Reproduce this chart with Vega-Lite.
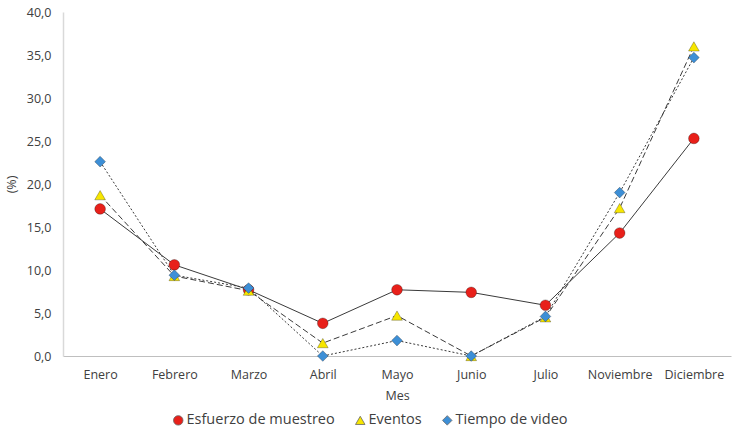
{
  "$schema": "https://vega.github.io/schema/vega-lite/v6.json",
  "width": 668,
  "height": 344,
  "autosize": {"type": "none"},
  "padding": {"left": 63, "top": 12, "right": 1, "bottom": 74},
  "background": "white",
  "config": {
    "view": {"stroke": null},
    "font": "Open Sans",
    "axis": {"labelFont": "Open Sans", "titleFont": "Open Sans", "labelColor": "#404040", "titleColor": "#404040", "labelFontSize": 12.5, "titleFontSize": 12.5, "titleFontWeight": "normal", "grid": false, "ticks": false},
    "legend": {"labelFont": "Open Sans", "labelFontSize": 14.5, "labelColor": "#404040"}
  },
  "data": {
    "values": [
      {"mes": "Enero", "serie": "Esfuerzo de muestreo", "valor": 17.1},
      {"mes": "Febrero", "serie": "Esfuerzo de muestreo", "valor": 10.6},
      {"mes": "Marzo", "serie": "Esfuerzo de muestreo", "valor": 7.7},
      {"mes": "Abril", "serie": "Esfuerzo de muestreo", "valor": 3.8},
      {"mes": "Mayo", "serie": "Esfuerzo de muestreo", "valor": 7.7},
      {"mes": "Junio", "serie": "Esfuerzo de muestreo", "valor": 7.4},
      {"mes": "Julio", "serie": "Esfuerzo de muestreo", "valor": 5.9},
      {"mes": "Noviembre", "serie": "Esfuerzo de muestreo", "valor": 14.3},
      {"mes": "Diciembre", "serie": "Esfuerzo de muestreo", "valor": 25.3},
      {"mes": "Enero", "serie": "Eventos", "valor": 18.7},
      {"mes": "Febrero", "serie": "Eventos", "valor": 9.3},
      {"mes": "Marzo", "serie": "Eventos", "valor": 7.6},
      {"mes": "Abril", "serie": "Eventos", "valor": 1.5},
      {"mes": "Mayo", "serie": "Eventos", "valor": 4.7},
      {"mes": "Junio", "serie": "Eventos", "valor": 0.0},
      {"mes": "Julio", "serie": "Eventos", "valor": 4.5},
      {"mes": "Noviembre", "serie": "Eventos", "valor": 17.2},
      {"mes": "Diciembre", "serie": "Eventos", "valor": 36.0},
      {"mes": "Enero", "serie": "Tiempo de video", "valor": 22.6},
      {"mes": "Febrero", "serie": "Tiempo de video", "valor": 9.4},
      {"mes": "Marzo", "serie": "Tiempo de video", "valor": 7.9},
      {"mes": "Abril", "serie": "Tiempo de video", "valor": 0.0},
      {"mes": "Mayo", "serie": "Tiempo de video", "valor": 1.8},
      {"mes": "Junio", "serie": "Tiempo de video", "valor": 0.0},
      {"mes": "Julio", "serie": "Tiempo de video", "valor": 4.6},
      {"mes": "Noviembre", "serie": "Tiempo de video", "valor": 19.0},
      {"mes": "Diciembre", "serie": "Tiempo de video", "valor": 34.7}
    ]
  },
  "encoding": {
    "x": {
      "field": "mes", "type": "ordinal",
      "sort": ["Enero", "Febrero", "Marzo", "Abril", "Mayo", "Junio", "Julio", "Noviembre", "Diciembre"],
      "scale": {"type": "point", "padding": 0.5},
      "axis": {"title": "Mes", "labelAngle": 0, "labelPadding": 12, "titlePadding": 9, "domainColor": "#BFBFBF", "domainWidth": 1.2}
    },
    "y": {
      "field": "valor", "type": "quantitative",
      "scale": {"domain": [0, 40], "nice": false},
      "axis": {"title": "(%)", "values": [0, 5, 10, 15, 20, 25, 30, 35, 40], "labelExpr": "replace(format(datum.value, '.1f'), '.', ',')", "labelPadding": 12, "titlePadding": 8, "domainColor": "#D9D9D9", "domainWidth": 1.5}
    }
  },
  "layer": [
    {
      "transform": [{"filter": "datum.serie === 'Esfuerzo de muestreo'"}],
      "mark": {"type": "line", "color": "#3a3a3a", "strokeWidth": 1},
      "encoding": {}
    },
    {
      "transform": [{"filter": "datum.serie === 'Eventos'"}],
      "mark": {"type": "line", "color": "#3a3a3a", "strokeWidth": 1, "strokeDash": [6, 3]},
      "encoding": {}
    },
    {
      "transform": [{"filter": "datum.serie === 'Tiempo de video'"}],
      "mark": {"type": "line", "color": "#3a3a3a", "strokeWidth": 1, "strokeDash": [2, 2]},
      "encoding": {}
    },
    {
      "mark": {"type": "point", "filled": true, "opacity": 1, "stroke": "#000000", "strokeOpacity": 0.35, "strokeWidth": 0.8, "size": 115},
      "encoding": {
        "color": {
          "field": "serie", "type": "nominal",
          "scale": {"domain": ["Esfuerzo de muestreo", "Eventos", "Tiempo de video"], "range": ["#E8201A", "#F7E600", "#3D8FD6"]},
          "legend": {"title": null, "orient": "none", "legendX": 108, "legendY": 401, "direction": "horizontal", "symbolSize": 90, "columnPadding": 18, "labelOffset": 1, "symbolStrokeWidth": 0.8, "symbolStrokeColor": "#666666"}
        },
        "shape": {
          "field": "serie", "type": "nominal",
          "scale": {"domain": ["Esfuerzo de muestreo", "Eventos", "Tiempo de video"], "range": ["circle", "triangle-up", "diamond"]}
        }
      }
    }
  ]
}
